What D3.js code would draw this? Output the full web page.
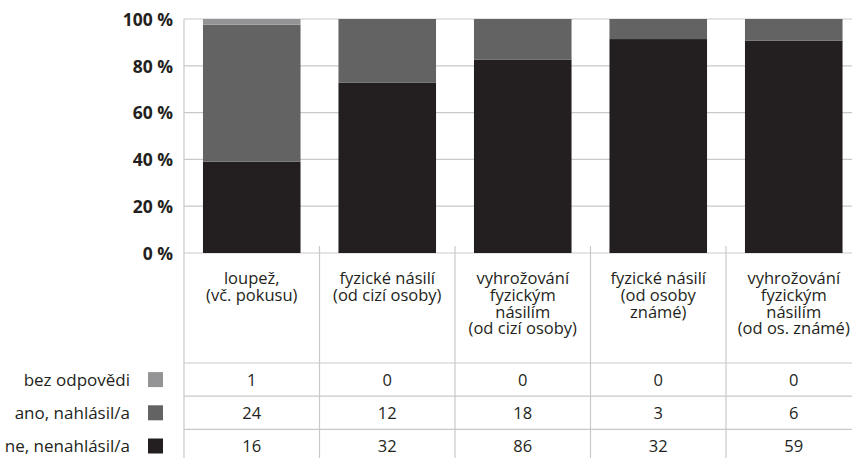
<!DOCTYPE html>
<html>
<head>
<meta charset="utf-8">
<script src="https://cdn.jsdelivr.net/npm/d3@7"></script>
<style>
  html, body { margin: 0; padding: 0; background: #fff; }
  svg { display: block; font-family: "Open Sans", "Noto Sans", sans-serif; }
</style>
</head>
<body>
<svg id="chart" width="852" height="458"></svg>
<script>
// ---- data ----
const categories = [
  ["loupež,", "(vč. pokusu)"],
  ["fyzické násilí", "(od cizí osoby)"],
  ["vyhrožování", "fyzickým", "násilím", "(od cizí osoby)"],
  ["fyzické násilí", "(od osoby", "známé)"],
  ["vyhrožování", "fyzickým", "násilím", "(od os. známé)"]
];
const seriesNames = ["ne, nenahlásil/a", "ano, nahlásil/a", "bez odpovědi"];
const neValues  = [16, 32, 86, 32, 59];
const anoValues = [24, 12, 18, 3, 6];
const bezValues = [1, 0, 0, 0, 0];
const yTicks = [0, 0.2, 0.4, 0.6, 0.8, 1.0];
const tableRows = ["bez odpovědi", "ano, nahlásil/a", "ne, nenahlásil/a"];

// ---- build ----
const colors = {"ne, nenahlásil/a": "#231f20", "ano, nahlásil/a": "#636364", "bez odpovědi": "#949496"};
const gridColor = "#c9c9cb";
const svg = d3.select("#chart");

const keys = categories.map((c, i) => "c" + i);
const rows = keys.map((k, i) => ({
  key: k,
  "ne, nenahlásil/a": neValues[i],
  "ano, nahlásil/a": anoValues[i],
  "bez odpovědi": bezValues[i]
}));

const plotLeft = 184, plotRight = 861.5, plotTop = 19, plotBase = 253;
const x = d3.scaleBand().domain(keys).range([plotLeft, plotRight]).paddingInner(0.28).paddingOuter(0.14);
const xCol = d3.scaleBand().domain(keys).range([plotLeft, plotRight]).padding(0);
const y = d3.scaleLinear().domain([0, 1]).range([plotBase, plotTop]);

// gridlines
svg.append("g").selectAll("line").data(yTicks).join("line")
  .attr("x1", plotLeft).attr("x2", 852)
  .attr("y1", d => y(d)).attr("y2", d => y(d))
  .attr("stroke", gridColor).attr("stroke-width", 1.2);

// y axis line
svg.append("line").attr("x1", plotLeft).attr("x2", plotLeft).attr("y1", y(1)).attr("y2", 458)
  .attr("stroke", gridColor).attr("stroke-width", 1.2);

// column dividers
svg.append("g").selectAll("line").data(keys.slice(1)).join("line")
  .attr("x1", d => xCol(d)).attr("x2", d => xCol(d))
  .attr("y1", 246).attr("y2", 458)
  .attr("stroke", gridColor).attr("stroke-width", 1.2);

// table horizontal lines
const rowTop = 363, rowH = 33.2;
svg.append("g").selectAll("line").data(d3.range(3)).join("line")
  .attr("x1", plotLeft).attr("x2", 852)
  .attr("y1", d => rowTop + d * rowH).attr("y2", d => rowTop + d * rowH)
  .attr("stroke", gridColor).attr("stroke-width", 1.2);

// stacked bars
const stack = d3.stack().keys(seriesNames).offset(d3.stackOffsetExpand);
const stacked = stack(rows);
svg.append("g").selectAll("g").data(stacked).join("g")
  .attr("fill", d => colors[d.key])
  .selectAll("rect").data(d => d).join("rect")
  .attr("x", d => x(d.data.key))
  .attr("width", x.bandwidth())
  .attr("y", d => y(d[1]))
  .attr("height", d => Math.max(0, y(d[0]) - y(d[1])));

// y axis labels
const yAxis = d3.axisLeft(y).tickValues(yTicks).tickFormat(d => Math.round(d * 100) + " %").tickSize(0).tickPadding(0);
const ya = svg.append("g").attr("transform", "translate(173,0)").call(yAxis);
ya.select(".domain").remove();
ya.selectAll("text")
  .attr("font-family", "'Open Sans', sans-serif")
  .attr("font-size", 17.5).attr("font-weight", "bold").attr("fill", "#231f20")
  .attr("dy", "0.36em");

// category header labels
const hdr = svg.append("g").selectAll("text").data(keys).join("text")
  .attr("x", d => xCol(d) + xCol.bandwidth() / 2)
  .attr("y", 284)
  .attr("text-anchor", "middle")
  .attr("font-size", 16.5).attr("fill", "#231f20");
hdr.selectAll("tspan").data((d, i) => categories[i]).join("tspan")
  .attr("x", function() { return d3.select(this.parentNode).attr("x"); })
  .attr("dy", (d, i) => i === 0 ? 0 : 16.8)
  .text(d => d);

// table values
const tableData = {"bez odpovědi": bezValues, "ano, nahlásil/a": anoValues, "ne, nenahlásil/a": neValues};
tableRows.forEach((name, r) => {
  const cy = rowTop + r * rowH + rowH / 2;
  svg.append("g").selectAll("text").data(keys).join("text")
    .attr("x", d => xCol(d) + xCol.bandwidth() / 2)
    .attr("y", cy)
    .attr("dy", "0.36em")
    .attr("text-anchor", "middle")
    .attr("font-size", 16.5).attr("fill", "#231f20")
    .text((d, i) => tableData[name][i]);
  // legend label
  svg.append("text").attr("x", 130).attr("y", cy).attr("dy", "0.36em")
    .attr("text-anchor", "end").attr("font-size", 17).attr("fill", "#231f20")
    .text(name);
  svg.append("rect").attr("x", 148).attr("y", cy - 7.5).attr("width", 15).attr("height", 15)
    .attr("fill", colors[name]);
});
</script>
</body>
</html>
